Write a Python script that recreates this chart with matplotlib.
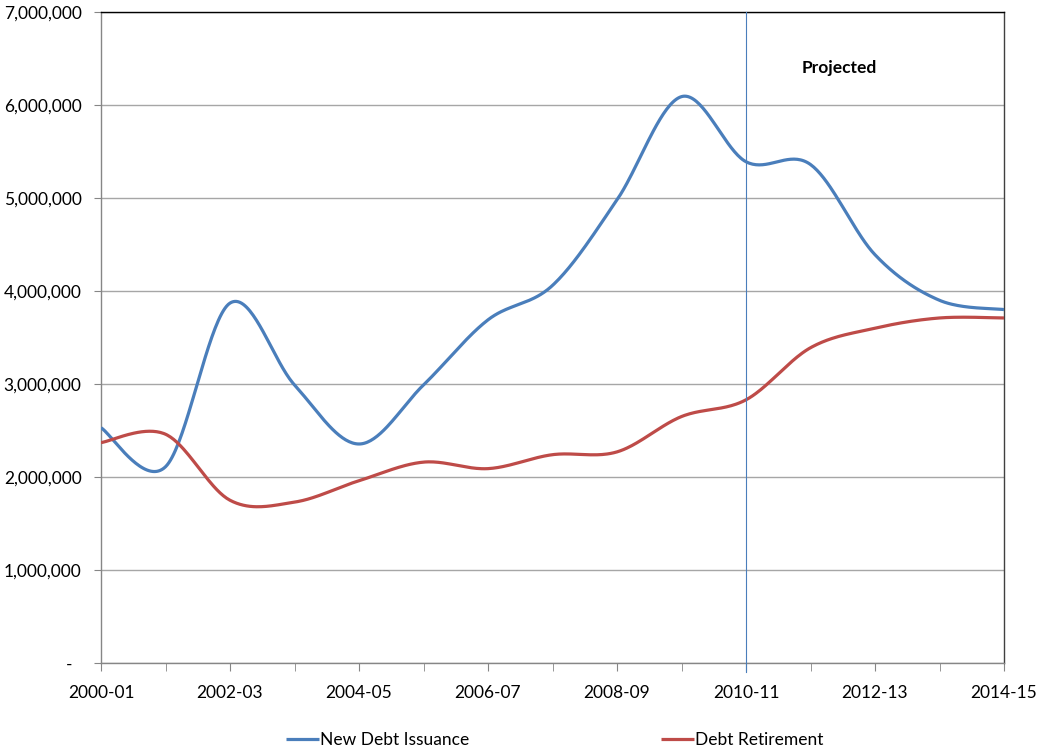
import numpy as np
import matplotlib
matplotlib.use("Agg")
import matplotlib.pyplot as plt
from matplotlib.ticker import FuncFormatter

plt.rcParams['font.family'] = ['Lato', 'DejaVu Sans']

categories = ["2000-01", "2001-02", "2002-03", "2003-04", "2004-05", "2005-06",
              "2006-07", "2007-08", "2008-09", "2009-10", "2010-11", "2011-12",
              "2012-13", "2013-14", "2014-15"]
new_debt = [2530000, 2110000, 3870000, 2990000, 2355000, 2990000, 3690000,
            4060000, 4980000, 6090000, 5390000, 5360000, 4390000, 3900000, 3800000]
debt_ret = [2370000, 2460000, 1750000, 1730000, 1960000, 2160000, 2090000,
            2240000, 2270000, 2650000, 2830000, 3390000, 3600000, 3710000, 3710000]
tick_labels = ["2000-01", "2002-03", "2004-05", "2006-07", "2008-09",
               "2010-11", "2012-13", "2014-15"]


def smooth(x, y, n=40):
    x = np.asarray(x, float)
    y = np.asarray(y, float)
    P = np.column_stack([x, y])
    Pp = np.vstack([P[0], P, P[-1]])
    out = [P[0]]
    t = np.linspace(0, 1, n)[1:]
    for i in range(len(P) - 1):
        p0, p1, p2, p3 = Pp[i], Pp[i + 1], Pp[i + 2], Pp[i + 3]
        c1 = p1 + (p2 - p0) / 6.0
        c2 = p2 - (p3 - p1) / 6.0
        seg = ((1 - t) ** 3)[:, None] * p1 + (3 * (1 - t) ** 2 * t)[:, None] * c1 \
            + (3 * (1 - t) * t ** 2)[:, None] * c2 + (t ** 3)[:, None] * p2
        out.extend(seg)
    out = np.array(out)
    return out[:, 0], out[:, 1]


fig = plt.figure(figsize=(10.37, 7.49), dpi=100)
ax = fig.add_axes([101 / 1037, 1 - 663 / 749, (1004 - 101) / 1037, (663 - 12) / 749])

x = np.arange(len(categories))
bx, by = smooth(x, new_debt)
rx, ry = smooth(x, debt_ret)
blue = "#4A7EBB"
red = "#BE4B48"
ax.plot(bx, by, color=blue, lw=2.3, label="New Debt Issuance", zorder=3, solid_capstyle='butt')
ax.plot(rx, ry, color=red, lw=2.3, label="Debt Retirement", zorder=3, solid_capstyle='butt')

fs = 12.5
ax.set_xlim(0, len(categories) - 1)
ax.set_ylim(0, 7000000)
ax.set_yticks(np.arange(0, 7000001, 1000000))
ax.yaxis.set_major_formatter(FuncFormatter(lambda v, p: "-  " if v == 0 else f"{int(v):,}"))
ax.set_xticks(x, minor=True)
ax.set_xticks(x[::2])
ax.set_xticklabels(tick_labels)
ax.tick_params(axis='x', which='both', length=6, color="#868686", pad=10, labelsize=fs)
ax.tick_params(axis='y', length=5, color="#868686", pad=9, labelsize=fs)

ax.grid(axis='y', color="#A6A6A6", lw=1)
ax.set_axisbelow(True)
ax.spines['left'].set_color("#868686")
ax.spines['bottom'].set_color("#868686")
ax.spines['top'].set_color("black")
ax.spines['right'].set_color("#404040")
for s in ax.spines.values():
    s.set_linewidth(1)

idx = categories.index("2010-11")
ax.axvline(idx, ymin=-0.014, ymax=1, color=blue, lw=0.8, clip_on=False, zorder=4)
ax.text(11.45, 6.4e6, "Projected", fontsize=fs, fontweight='bold', ha='center', va='center')

fig.legend(loc='lower center', ncol=2, frameon=False, fontsize=fs,
           bbox_to_anchor=(0.535, -0.02), columnspacing=11, handlelength=1.9,
           handletextpad=0.1)

fig.savefig("out.png", dpi=100)
